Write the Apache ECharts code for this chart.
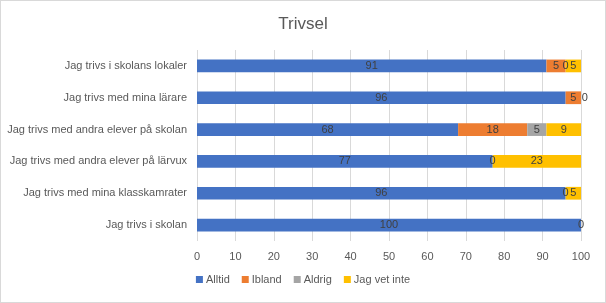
<!DOCTYPE html>
<html><head><meta charset="utf-8">
<script src="https://cdn.jsdelivr.net/npm/echarts@6/dist/echarts.min.js"></script>
<style>html,body{margin:0;padding:0;background:#fff}#c{width:606px;height:303px;box-sizing:border-box;border:1px solid #d9d9d9}</style>
</head><body><div id="c"></div>
<script>
const categories = ["Jag trivs i skolans lokaler","Jag trivs med mina lärare","Jag trivs med andra elever på skolan","Jag trivs med andra elever på lärvux","Jag trivs med mina klasskamrater","Jag trivs i skolan"];
const alltid = [91, 96, 68, 77, 96, 100];
const ibland = [5, 5, 18, 0, 0, null];
const aldrig = [0, 0, 5, null, null, null];
const vetInte = [5, null, 9, 23, 5, 0];
const xTicks = [0,10,20,30,40,50,60,70,80,90,100];

const font = "Liberation Sans";
const cats = categories.slice().reverse();
const rev = a => a.slice().reverse();
function mk(name, data, color, clip){
  return {name, type:'bar', stack:'t', data:rev(data), barWidth:'40%', clip:clip,
    itemStyle:{color},
    label:{show:true, position:'inside', color:'#404040', fontFamily:font, fontSize:11,
      formatter:p=> (p.value===null||p.value===undefined)?'':String(p.value)}};
}
const chart = echarts.init(document.getElementById('c'), null, {renderer:'canvas'});
chart.setOption({
  animation:false,
  title:{text:'Trivsel', left:'center', top:10, textStyle:{fontFamily:font, fontSize:17, fontWeight:'normal', color:'#595959'}},
  grid:{left:196, right:24, top:49, bottom:61, containLabel:false},
  legend:{bottom:12, left:'center', itemWidth:7, itemHeight:7, itemGap:12, icon:'rect',
    textStyle:{fontFamily:font, fontSize:11, color:'#595959', padding:[0,0,0,-2]}},
  xAxis:{type:'value', min:0, max:100, interval:10,
    axisLine:{show:false}, axisTick:{show:false},
    splitLine:{lineStyle:{color:'#d9d9d9'}},
    axisLabel:{fontFamily:font, fontSize:11, color:'#595959', margin:10,
      formatter:v=>xTicks.includes(v)?String(v):''}},
  yAxis:{type:'category', data:cats, axisLine:{show:false}, axisTick:{show:false},
    axisLabel:{fontFamily:font, fontSize:11, color:'#595959', margin:10}},
  series:[mk('Alltid',alltid,'#4472C4',true), mk('Ibland',ibland,'#ED7D31',true), mk('Aldrig',aldrig,'#A5A5A5',false), mk('Jag vet inte',vetInte,'#FFC000',true)]
});
</script></body></html>
